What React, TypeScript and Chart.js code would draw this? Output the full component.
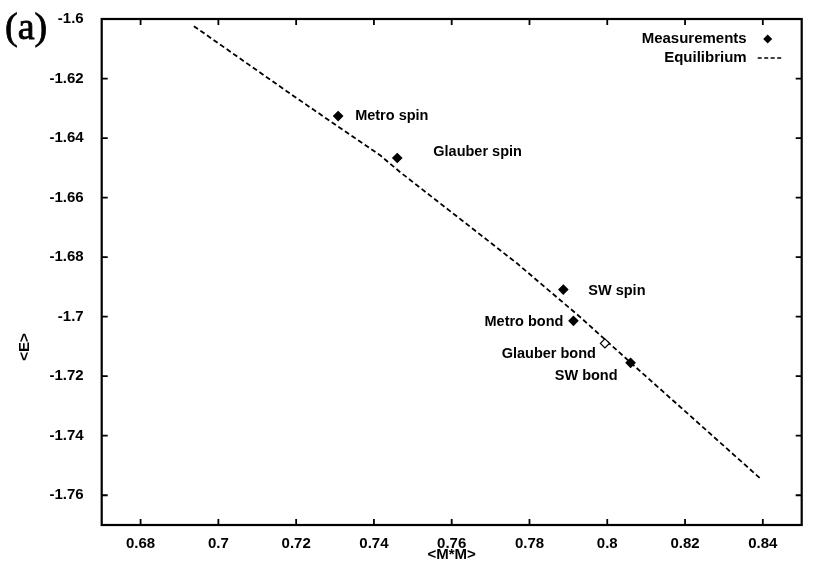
import React, { useEffect, useRef } from "react";
import { Chart, registerables } from "chart.js";

Chart.register(...registerables);

// ---- data ----
const measurementNames = ["Metro spin", "Glauber spin", "SW spin", "Metro bond", "Glauber bond", "SW bond"];
const measurementX = [0.7308, 0.746, 0.7887, 0.7913, 0.7994, 0.806];
const measurementY = [-1.6326, -1.6467, -1.6909, -1.7014, -1.709, -1.7155];

const equilibriumX = [0.6937, 0.7197, 0.7416, 0.7467, 0.7767, 0.793, 0.8058, 0.8393];
const equilibriumY = [-1.6024, -1.6262, -1.6458, -1.6514, -1.682, -1.7001, -1.7152, -1.7543];

const xTicks = [0.68, 0.7, 0.72, 0.74, 0.76, 0.78, 0.8, 0.82, 0.84];
const xTickLabels = ["0.68", "0.7", "0.72", "0.74", "0.76", "0.78", "0.8", "0.82", "0.84"];
const yTicks = [-1.6, -1.62, -1.64, -1.66, -1.68, -1.7, -1.72, -1.74, -1.76];
const yTickLabels = ["-1.6", "-1.62", "-1.64", "-1.66", "-1.68", "-1.7", "-1.72", "-1.74", "-1.76"];

const xTitle = "<M*M>";
const yTitle = "<E>";
const panelTag = "(a)";

// ---- layout / style (not data) ----
const labelOffsets: [number, number, CanvasTextAlign][] = [
  [17, 0, "left"],
  [36, -6, "left"],
  [25, 1, "left"],
  [-10, 1, "right"],
  [-9, 11, "right"],
  [-13, 13, "right"],
];
const pointFills = ["#000", "#000", "#000", "#000", "#fff", "#000"];
const FONT = "'Liberation Sans', Arial, Helvetica, sans-serif";

const decorPlugin = {
  id: "decor",
  afterDraw(chart: any) {
    const { ctx, chartArea, scales } = chart;
    const { left, right, top, bottom } = chartArea;
    ctx.save();
    // frame
    ctx.strokeStyle = "#000";
    ctx.lineWidth = 2.2;
    ctx.strokeRect(left, top, right - left, bottom - top);
    // inward ticks on all four sides
    ctx.lineWidth = 1.8;
    const tl = 6;
    ctx.beginPath();
    scales.x.ticks.forEach((t: any) => {
      const px = scales.x.getPixelForValue(t.value);
      ctx.moveTo(px, bottom);
      ctx.lineTo(px, bottom - tl);
      ctx.moveTo(px, top);
      ctx.lineTo(px, top + tl);
    });
    scales.y.ticks.forEach((t: any) => {
      const py = scales.y.getPixelForValue(t.value);
      ctx.moveTo(left, py);
      ctx.lineTo(left + tl, py);
      ctx.moveTo(right, py);
      ctx.lineTo(right - tl, py);
    });
    ctx.stroke();

    // point annotations
    ctx.fillStyle = "#000";
    ctx.font = `bold 14.5px ${FONT}`;
    ctx.textBaseline = "middle";
    const meta = chart.getDatasetMeta(0);
    meta.data.forEach((el: any, i: number) => {
      const [dx, dy, align] = labelOffsets[i];
      ctx.textAlign = align;
      ctx.fillText(measurementNames[i], el.x + dx, el.y + dy);
    });

    // legend (text right-aligned, symbol on the right)
    const ds = chart.data.datasets;
    ctx.font = `bold 15px ${FONT}`;
    ctx.textAlign = "right";
    const tx = right - 55;
    ctx.fillText(ds[0].label, tx, top + 20);
    ctx.fillText(ds[1].label, tx, top + 39);
    // diamond
    const cx = right - 34;
    const cy = top + 20;
    const r = 4.5;
    ctx.beginPath();
    ctx.moveTo(cx, cy - r);
    ctx.lineTo(cx + r, cy);
    ctx.lineTo(cx, cy + r);
    ctx.lineTo(cx - r, cy);
    ctx.closePath();
    ctx.fill();
    // dashed line
    ctx.setLineDash([4, 2.5]);
    ctx.lineWidth = 1.6;
    ctx.beginPath();
    ctx.moveTo(right - 44, top + 39);
    ctx.lineTo(right - 18, top + 39);
    ctx.stroke();
    ctx.setLineDash([]);

    // axis titles
    ctx.font = `bold 15px ${FONT}`;
    ctx.textAlign = "center";
    ctx.fillText(xTitle, (left + right) / 2, 555);
    ctx.save();
    ctx.translate(25, 347);
    ctx.rotate(-Math.PI / 2);
    ctx.fillText(yTitle, 0, 0);
    ctx.restore();

    // panel tag
    ctx.font = "38px 'Liberation Serif', 'Times New Roman', serif";
    ctx.textAlign = "left";
    ctx.textBaseline = "alphabetic";
    ctx.lineWidth = 0.8;
    ctx.fillText(panelTag, 5, 39);
    ctx.strokeText(panelTag, 5, 39);
    ctx.restore();
  },
};

export default function App() {
  const canvasRef = useRef<HTMLCanvasElement | null>(null);

  useEffect(() => {
    const canvas = canvasRef.current;
    if (!canvas) return;
    const chart = new Chart(canvas, {
      type: "scatter",
      data: {
        datasets: [
          {
            label: "Measurements",
            data: measurementX.map((x, i) => ({ x, y: measurementY[i] })),
            pointStyle: "rectRot",
            pointRadius: 4.5,
            pointBackgroundColor: pointFills,
            pointBorderColor: "#000",
            pointBorderWidth: 1.2,
            showLine: false,
          },
          {
            label: "Equilibrium",
            data: equilibriumX.map((x, i) => ({ x, y: equilibriumY[i] })),
            showLine: true,
            borderColor: "#000",
            borderWidth: 1.8,
            borderDash: [5, 3],
            pointRadius: 0,
            fill: false,
          },
        ],
      },
      options: {
        animation: false,
        responsive: true,
        maintainAspectRatio: false,
        layout: { padding: { top: 18.6, right: 15.3, left: 0, bottom: 0 } },
        plugins: {
          legend: { display: false },
          tooltip: { enabled: false },
        },
        scales: {
          x: {
            type: "linear",
            min: 0.67,
            max: 0.85,
            afterBuildTicks: (scale: any) => {
              scale.ticks = xTicks.map((v) => ({ value: v }));
            },
            afterFit: (scale: any) => {
              scale.height = 38;
            },
            grid: { display: false },
            border: { display: false },
            ticks: {
              callback: (_v: any, i: number) => xTickLabels[i],
              color: "#000",
              font: { family: FONT, size: 15, weight: "bold" },
              padding: 2,
              maxRotation: 0,
              autoSkip: false,
            },
          },
          y: {
            type: "linear",
            min: -1.77,
            max: -1.6,
            afterBuildTicks: (scale: any) => {
              scale.ticks = yTicks.map((v) => ({ value: v }));
            },
            afterFit: (scale: any) => {
              scale.width = 101.7;
            },
            grid: { display: false },
            border: { display: false },
            ticks: {
              callback: (_v: any, i: number) => yTickLabels[i],
              color: "#000",
              font: { family: FONT, size: 15, weight: "bold" },
              padding: 10,
              autoSkip: false,
            },
          },
        },
      },
      plugins: [decorPlugin],
    });
    return () => chart.destroy();
  }, []);

  return (
    <div style={{ position: "fixed", left: 0, top: 0, width: 817, height: 563, background: "#fff" }}>
      <canvas ref={canvasRef} />
    </div>
  );
}
